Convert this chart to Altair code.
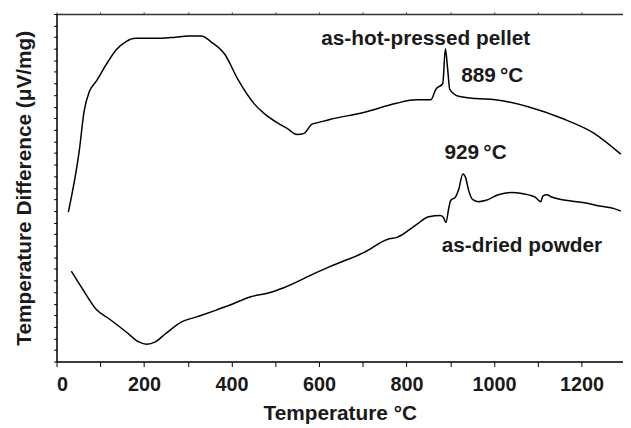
import altair as alt
import pandas as pd

# as-hot-pressed pellet (upper curve)
pellet_T = [27, 52, 63, 75, 91, 113, 136, 158, 181, 211, 240, 272, 301, 331, 353, 385, 414,
            453, 475, 505, 528, 550, 566, 584, 595, 625, 702, 777, 822, 856, 867, 883, 889,
            894, 899, 919, 958, 1003, 1078, 1155, 1229, 1290]
pellet_v = [12.9, 18.2, 21.6, 23.3, 24.2, 25.6, 26.9, 27.6, 27.9, 27.9, 27.9, 28.0, 28.1, 28.1,
            27.6, 26.5, 24.4, 22.2, 21.4, 20.6, 20.1, 19.6, 19.7, 20.5, 20.6, 20.9, 21.5, 22.3,
            22.6, 22.6, 23.5, 24.0, 27.0, 25.3, 23.5, 22.9, 22.7, 22.6, 22.0, 21.0, 19.7, 17.9]

# as-dried powder (lower curve)
powder_T = [34, 59, 91, 120, 158, 188, 206, 226, 249, 285, 324, 362, 398, 444, 482, 521, 595,
            625, 702, 761, 777, 822, 851, 878, 885, 890, 897, 901, 912, 919, 929, 935, 942,
            951, 964, 980, 1010, 1041, 1064, 1094, 1107, 1112, 1121, 1132, 1168, 1207, 1245,
            1275, 1290]
powder_v = [7.8, 6.3, 4.5, 3.7, 2.6, 1.7, 1.5, 1.7, 2.4, 3.4, 3.9, 4.4, 4.9, 5.6, 5.9, 6.4, 7.7,
            8.2, 9.4, 10.6, 10.7, 11.8, 12.5, 12.6, 12.4, 12.0, 13.3, 13.9, 14.2, 14.8, 16.2,
            15.9, 14.8, 14.0, 13.8, 13.9, 14.4, 14.6, 14.5, 14.2, 13.8, 14.3, 14.4, 14.2, 13.9,
            13.7, 13.4, 13.2, 13.0]

# annotations
ann_text = ["as-hot-pressed pellet", "889\u2009°C", "929\u2009°C", "as-dried powder"]
ann_T = [844, 996, 958, 1064]
ann_v = [27.35, 24.1, 17.5, 9.5]

x_ticks = list(range(0, 1300, 100))
y_ticks = list(range(0, 31))

df = pd.concat([
    pd.DataFrame({"T": pellet_T, "v": pellet_v, "s": "pellet"}),
    pd.DataFrame({"T": powder_T, "v": powder_v, "s": "powder"}),
])
ann = pd.DataFrame({"T": ann_T, "v": ann_v, "t": ann_text})

FONT = "Liberation Sans"
INK = "#1a1a1a"
xscale = alt.Scale(domain=[0, 1295], nice=False, zero=False)
yscale = alt.Scale(domain=[0, 30], nice=False, zero=False)

y_axis = alt.Axis(values=y_ticks, labels=False, title="Temperature Difference (μV/mg)",
                  grid=False, tickSize=3, titleFont=FONT, titleFontSize=21,
                  titleFontWeight="bold", titleColor=INK, titlePadding=19,
                  domainColor="black", tickColor="black", domainWidth=1.5)

lines = alt.Chart(df).mark_line(color="black", strokeWidth=1.5, interpolate="monotone").encode(
    x=alt.X("T:Q", scale=xscale,
            axis=alt.Axis(values=x_ticks, title="Temperature °C", format="d",
                          labelExpr="datum.value % 200 == 0 ? datum.label : ''",
                          grid=False, tickSize=5, labelPadding=8, labelFont=FONT,
                          labelFontSize=20, labelFontWeight="bold", labelColor=INK,
                          titleFont=FONT, titleFontSize=21, titleFontWeight="bold",
                          titleColor=INK, titlePadding=8, domainColor="black",
                          tickColor="black", domainWidth=1.5)),
    y=alt.Y("v:Q", scale=yscale, axis=y_axis),
    detail="s:N",
)

top = alt.Chart(df).mark_line(opacity=0).encode(
    x=alt.X("T:Q", scale=xscale,
            axis=alt.Axis(orient="top", values=x_ticks, labels=False, title=None, grid=False,
                          tickSize=2, domainColor="#333", tickColor="#333", domainWidth=1.5)),
    y=alt.Y("v:Q", scale=yscale, axis=y_axis),
    detail="s:N",
)

texts = alt.Chart(ann).mark_text(font=FONT, fontSize=21, fontWeight="bold", color=INK,
                                 align="center", baseline="alphabetic").encode(
    x=alt.X("T:Q", scale=xscale, axis=None),
    y=alt.Y("v:Q", scale=yscale, axis=y_axis),
    text="t:N",
)

chart = alt.layer(lines, top, texts).resolve_axis(x="independent").properties(
    width=572, height=351,
    padding={"left": 49, "top": 4, "right": 0, "bottom": 64},
    autosize=alt.AutoSizeParams(type="none"),
).configure_view(stroke=None).configure(background="white")

chart.save("out.html", embed_options={"renderer": "svg", "actions": False})
